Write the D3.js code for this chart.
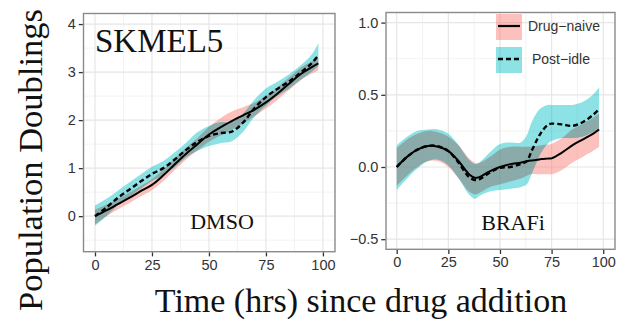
<!DOCTYPE html>
<html>
<head>
<meta charset="utf-8">
<script src="https://d3js.org/d3.v7.min.js"></script>
<style>
  body { margin: 0; background: #fff; }
  svg { display: block; }
</style>
</head>
<body>
<div id="canvas"></div>
<script>
"use strict"

/* Data: DMSO panel */
let dmsoTime = [0, 5, 10, 15, 20, 25, 30, 35, 40, 45, 50, 55, 60, 65, 70, 75, 80, 85, 90, 95, 98];
let dmsoNaive = [0, 0.12, 0.25, 0.38, 0.52, 0.65, 0.85, 1.08, 1.3, 1.5, 1.7, 1.85, 1.98, 2.1, 2.22, 2.37, 2.55, 2.75, 2.95, 3.1, 3.18];
let dmsoNaiveLo = [-0.17, 0.0, 0.14, 0.27, 0.41, 0.54, 0.73, 0.96, 1.18, 1.37, 1.55, 1.68, 1.8, 1.93, 2.08, 2.24, 2.42, 2.62, 2.82, 2.97, 3.03];
let dmsoNaiveHi = [0.14, 0.24, 0.36, 0.49, 0.63, 0.77, 0.97, 1.2, 1.43, 1.63, 1.86, 2.04, 2.18, 2.27, 2.36, 2.5, 2.68, 2.88, 3.08, 3.22, 3.3];
let dmsoIdle = [0, 0.18, 0.38, 0.55, 0.72, 0.88, 1.0, 1.18, 1.38, 1.55, 1.67, 1.73, 1.76, 1.95, 2.25, 2.48, 2.65, 2.8, 2.98, 3.18, 3.35];
let dmsoIdleLo = [-0.2, 0.0, 0.22, 0.4, 0.57, 0.73, 0.85, 1.02, 1.22, 1.36, 1.46, 1.52, 1.56, 1.76, 2.07, 2.3, 2.5, 2.65, 2.83, 3.0, 3.12];
let dmsoIdleHi = [0.22, 0.36, 0.53, 0.7, 0.87, 1.03, 1.15, 1.33, 1.53, 1.75, 1.88, 1.96, 1.96, 2.14, 2.43, 2.66, 2.8, 2.95, 3.13, 3.36, 3.6];

/* Data: BRAFi panel */
let brafTime = [0, 5, 10, 15, 20, 25, 30, 35, 38, 40, 45, 50, 55, 60, 63, 65, 68, 70, 73, 75, 80, 85, 90, 95, 98];
let brafNaive = [0, 0.07, 0.12, 0.145, 0.14, 0.11, 0.04, -0.05, -0.075, -0.07, -0.03, 0.0, 0.02, 0.03, 0.04, 0.045, 0.05, 0.055, 0.058, 0.06, 0.1, 0.15, 0.19, 0.23, 0.26];
let brafNaiveLo = [-0.13, -0.06, 0.0, 0.04, 0.04, 0.0, -0.08, -0.17, -0.19, -0.18, -0.14, -0.12, -0.1, -0.08, -0.06, -0.05, -0.05, -0.05, -0.05, -0.05, -0.02, 0.03, 0.07, 0.11, 0.14];
let brafNaiveHi = [0.13, 0.19, 0.23, 0.25, 0.24, 0.21, 0.15, 0.06, 0.03, 0.03, 0.07, 0.12, 0.14, 0.14, 0.14, 0.14, 0.145, 0.15, 0.155, 0.16, 0.2, 0.26, 0.3, 0.34, 0.37];
let brafIdle = [0, 0.07, 0.12, 0.145, 0.145, 0.11, 0.03, -0.07, -0.09, -0.085, -0.04, -0.005, 0.0, 0.02, 0.04, 0.1, 0.19, 0.24, 0.29, 0.3, 0.295, 0.285, 0.31, 0.36, 0.4];
let brafIdleLo = [-0.16, -0.08, -0.01, 0.04, 0.05, 0.01, -0.08, -0.19, -0.22, -0.2, -0.17, -0.16, -0.15, -0.14, -0.12, -0.06, 0.04, 0.1, 0.16, 0.18, 0.2, 0.2, 0.21, 0.24, 0.26];
let brafIdleHi = [0.15, 0.21, 0.25, 0.26, 0.26, 0.23, 0.15, 0.05, 0.02, 0.03, 0.1, 0.16, 0.17, 0.17, 0.22, 0.3, 0.38, 0.41, 0.43, 0.43, 0.43, 0.43, 0.45, 0.5, 0.55];

/* Tick labels */
let xTicks = [0, 25, 50, 75, 100];
let dmsoYTicks = [0, 1, 2, 3, 4];
let brafYTicks = [-0.5, 0.0, 0.5, 1.0];
let legendLabels = ["Drug\u2212naive", "Post\u2212idle"];

/* Configuration variables: drawing */
let svgWidth = 629;
let svgHeight = 322;
let pinkFill = "#f8766d";
let cyanFill = "#00bfc4";
let bandOpacity = 0.45;
let tickColor = "#333333";

let svg = d3.select("#canvas")
    .append("svg")
    .attr("width", svgWidth)
    .attr("height", svgHeight);

function drawPanel(p) {
    let xScale = d3.scaleLinear().domain(p.xDomain).range([p.left, p.right]);
    let yScale = d3.scaleLinear().domain(p.yDomain).range([p.bottom, p.top]);
    let g = svg.append("g");

    /* minor grid */
    let xMinor = [12.5, 37.5, 62.5, 87.5];
    g.selectAll(".xminor").data(xMinor).join("line")
        .attr("x1", d => xScale(d)).attr("x2", d => xScale(d))
        .attr("y1", p.top).attr("y2", p.bottom)
        .attr("stroke", "#f3f3f3").attr("stroke-width", 1);
    g.selectAll(".yminor").data(p.yMinor).join("line")
        .attr("y1", d => yScale(d)).attr("y2", d => yScale(d))
        .attr("x1", p.left).attr("x2", p.right)
        .attr("stroke", "#f3f3f3").attr("stroke-width", 1);

    /* major grid */
    g.selectAll(".xmajor").data(xTicks).join("line")
        .attr("x1", d => xScale(d)).attr("x2", d => xScale(d))
        .attr("y1", p.top).attr("y2", p.bottom)
        .attr("stroke", "#e6e6e6").attr("stroke-width", 1.2);
    g.selectAll(".ymajor").data(p.yTicks).join("line")
        .attr("y1", d => yScale(d)).attr("y2", d => yScale(d))
        .attr("x1", p.left).attr("x2", p.right)
        .attr("stroke", "#e6e6e6").attr("stroke-width", 1.2);

    let area = (lo, hi) => d3.area()
        .x((d, i) => xScale(p.time[i]))
        .y0((d, i) => yScale(lo[i]))
        .y1((d, i) => yScale(hi[i]))
        .curve(d3.curveCatmullRom)(p.time);
    let line = vals => d3.line()
        .x((d, i) => xScale(p.time[i]))
        .y((d, i) => yScale(vals[i]))
        .curve(d3.curveCatmullRom)(p.time);

    // ribbons
    let bands = g.append("g").style("isolation", "isolate");
    bands.append("path")
        .attr("d", area(p.naiveLo, p.naiveHi))
        .attr("fill", pinkFill)
        .attr("opacity", bandOpacity);
    bands.append("path")
        .attr("d", area(p.idleLo, p.idleHi))
        .attr("fill", cyanFill)
        .attr("opacity", bandOpacity)
        .style("mix-blend-mode", "multiply");

    // lines
    g.append("path")
        .attr("d", line(p.naive))
        .attr("fill", "none")
        .attr("stroke", "#000")
        .attr("stroke-width", 2);
    g.append("path")
        .attr("d", line(p.idle))
        .attr("fill", "none")
        .attr("stroke", "#000")
        .attr("stroke-width", 2.4)
        .attr("stroke-dasharray", "5,3");

    /* panel border */
    g.append("rect")
        .attr("x", p.left).attr("y", p.top)
        .attr("width", p.right - p.left).attr("height", p.bottom - p.top)
        .attr("fill", "none")
        .attr("stroke", "#8a8a8a")
        .attr("stroke-width", 1.4);

    /* axes */
    let xAxis = d3.axisBottom(xScale).tickValues(xTicks).tickSize(4).tickPadding(3);
    let yAxis = d3.axisLeft(yScale).tickValues(p.yTicks).tickSize(4).tickPadding(3)
        .tickFormat(p.yFormat);
    let xg = svg.append("g").attr("transform", "translate(0," + (p.bottom + 0.7) + ")").call(xAxis);
    let yg = svg.append("g").attr("transform", "translate(" + (p.left - 0.7) + ",0)").call(yAxis);
    [xg, yg].forEach(a => {
        a.select(".domain").remove();
        a.selectAll(".tick line").attr("stroke", tickColor).attr("stroke-width", 1.3);
        a.selectAll(".tick text")
            .attr("fill", tickColor)
            .style("font-family", "'Liberation Sans', Arial, sans-serif")
            .style("font-size", "14.5px");
    });

    /* panel label */
    svg.append("text")
        .attr("x", p.labelX)
        .attr("y", p.labelY)
        .attr("text-anchor", "middle")
        .style("font-family", "'Liberation Serif', 'Times New Roman', serif")
        .style("font-size", "22px")
        .attr("fill", "#111")
        .text(p.label);

    return { xScale, yScale };
}

drawPanel({
    left: 83.5, right: 335, top: 13.5, bottom: 251.7,
    xDomain: [-5.04, 105.3], yDomain: [-0.74, 4.22],
    yTicks: dmsoYTicks, yMinor: [-0.5, 0.5, 1.5, 2.5, 3.5], yFormat: d3.format("d"),
    time: dmsoTime,
    naive: dmsoNaive, naiveLo: dmsoNaiveLo, naiveHi: dmsoNaiveHi,
    idle: dmsoIdle, idleLo: dmsoIdleLo, idleHi: dmsoIdleHi,
    label: "DMSO", labelX: 222, labelY: 229
});

drawPanel({
    left: 386, right: 615, top: 12.5, bottom: 249.3,
    xDomain: [-5.18, 105.7], yDomain: [-0.57, 1.07],
    yTicks: brafYTicks, yMinor: [-0.25, 0.25, 0.75], yFormat: d3.format(".1f"),
    time: brafTime,
    naive: brafNaive, naiveLo: brafNaiveLo, naiveHi: brafNaiveHi,
    idle: brafIdle, idleLo: brafIdleLo, idleHi: brafIdleHi,
    label: "BRAFi", labelX: 513, labelY: 230
});

/* Cell line title */
svg.append("text")
    .attr("x", 95)
    .attr("y", 52)
    .style("font-family", "'Liberation Serif', 'Times New Roman', serif")
    .style("font-size", "33px")
    .attr("fill", "#111")
    .text("SKMEL5");

/* Legend */
let legend = svg.append("g").attr("transform", "translate(496,14)");
let legendFills = [pinkFill, cyanFill];
let legendDash = [null, "5,3"];
legendLabels.forEach((lab, i) => {
    let row = legend.append("g").attr("transform", "translate(0," + (i * 33) + ")");
    row.append("rect")
        .attr("width", 26).attr("height", 26)
        .attr("fill", legendFills[i])
        .attr("opacity", bandOpacity);
    row.append("line")
        .attr("x1", 2).attr("x2", 24)
        .attr("y1", 12).attr("y2", 12)
        .attr("stroke", "#000")
        .attr("stroke-width", i === 0 ? 2.2 : 2.6)
        .attr("stroke-dasharray", legendDash[i]);
    row.append("text")
        .attr("x", i === 0 ? 32 : 36)
        .attr("y", 12)
        .attr("dy", "0.35em")
        .attr("fill", tickColor)
        .style("font-family", "'Liberation Sans', Arial, sans-serif")
        .style("font-size", "14px")
        .text(lab);
});

/**** label the axes ****/
svg.append("text")
    .attr("x", 361)
    .attr("y", 312)
    .attr("text-anchor", "middle")
    .style("font-family", "'Liberation Serif', 'Times New Roman', serif")
    .style("font-size", "34px")
    .attr("fill", "#111")
    .text("Time (hrs) since drug addition");

svg.append("text")
    .attr("x", -160)
    .attr("y", 42)
    .attr("text-anchor", "middle")
    .attr("transform", "rotate(-90)")
    .style("font-family", "'Liberation Serif', 'Times New Roman', serif")
    .style("font-size", "34.5px")
    .attr("fill", "#111")
    .text("Population Doublings");
</script>
</body>
</html>
